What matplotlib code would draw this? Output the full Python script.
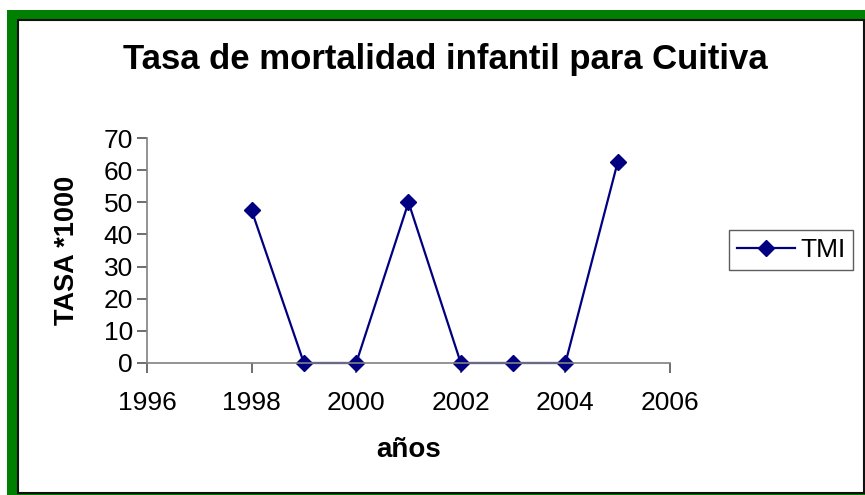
import matplotlib
matplotlib.use("Agg")
import matplotlib.pyplot as plt
from matplotlib.patches import Rectangle

years = [1998, 1999, 2000, 2001, 2002, 2003, 2004, 2005]
tmi = [47.5, 0, 0, 50, 0, 0, 0, 62.5]
x_ticks = [1996, 1998, 2000, 2002, 2004, 2006]
y_ticks = [0, 10, 20, 30, 40, 50, 60, 70]

plt.rcParams['font.family'] = ['Liberation Sans', 'DejaVu Sans']

W, H = 865, 495
fig = plt.figure(figsize=(W / 100, H / 100), dpi=100)
fig.patch.set_facecolor('white')

# green frame on top/left, inner white panel with dark border
fig.patches.append(Rectangle((7 / W, 0), 858 / W, 485 / H, transform=fig.transFigure,
                             facecolor='#008000', edgecolor='none', zorder=0))
fig.patches.append(Rectangle((18 / W, 2 / H), 846 / W, 473 / H, transform=fig.transFigure,
                             facecolor='white', edgecolor='#111111', linewidth=1.5, zorder=0.5))

ax = fig.add_axes([147 / W, 1 - 363 / H, (670 - 147) / W, (363 - 138) / H])
ax.set_zorder(2)
ax.set_facecolor('none')
ax.plot(years, tmi, color='#000080', marker='D', markersize=8.5, linewidth=1.6, label='TMI',
        clip_on=False)

ax.set_xlim(1996, 2006)
ax.set_ylim(0, 70)
ax.set_xticks(x_ticks)
ax.set_yticks(y_ticks)
for s in ['top', 'right']:
    ax.spines[s].set_visible(False)
for s in ['left', 'bottom']:
    ax.spines[s].set_color('#808080')
    ax.spines[s].set_linewidth(1.2)
ax.tick_params(axis='both', direction='out', length=7, width=1.2, color='#555555',
               labelsize=19)
ax.tick_params(axis='x', pad=13)
ax.tick_params(axis='y', pad=3)

ax.set_xlabel('años', fontsize=20, fontweight='bold', labelpad=16)
ax.set_ylabel('TASA *1000', fontsize=19.5, fontweight='bold', labelpad=17)

fig.text(445 / W, 1 - 60 / H, 'Tasa de mortalidad infantil para Cuitiva', ha='center', va='center',
         fontsize=25, fontweight='bold', zorder=3)

leg = ax.legend(loc='center left', bbox_to_anchor=(729 / W, 1 - 250 / H), bbox_transform=fig.transFigure,
                fontsize=19, frameon=True, fancybox=False, handlelength=2.2, borderpad=0.3,
                handletextpad=0.2, borderaxespad=0)
leg.get_frame().set_edgecolor('#333333')
leg.get_frame().set_linewidth(1.0)

fig.savefig('out.png', dpi=100)
